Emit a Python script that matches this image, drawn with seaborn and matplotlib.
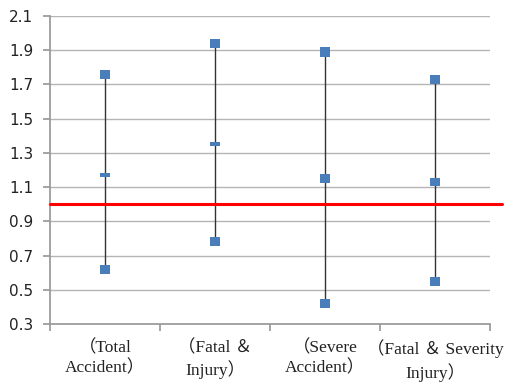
import matplotlib
matplotlib.use("Agg")
import matplotlib.pyplot as plt
import seaborn as sns
import pandas as pd
import numpy as np

categories = ["（Total\nAccident）", "（Fatal ＆\nInjury）", "（Severe\nAccident）", "（Fatal ＆ Severity\nInjury）"]
high = [1.76, 1.94, 1.89, 1.73]
mid = [1.17, 1.35, 1.15, 1.13]
low = [0.62, 0.78, 0.42, 0.55]
yticks = [0.3, 0.5, 0.7, 0.9, 1.1, 1.3, 1.5, 1.7, 1.9, 2.1]
reference_value = 1.0

sns.set_theme(style="white")
plt.rcParams['font.family'] = ['DejaVu Sans']

fig = plt.figure(figsize=(5.17, 3.82), dpi=100)
ax = fig.add_axes([50/517, 1-324/382, 440/517, 308/382])

x = np.arange(len(categories))
df = pd.DataFrame({"x": x, "high": high, "mid": mid, "low": low})

blue = "#4a7ebb"
ax.vlines(df["x"], df["low"], df["high"], color="#333333", lw=1.0, zorder=3)
sq = 44
sns.scatterplot(data=df, x="x", y="high", marker="s", s=sq, color=blue, edgecolor="none", ax=ax, zorder=4, legend=False)
sns.scatterplot(data=df, x="x", y="low", marker="s", s=sq, color=blue, edgecolor="none", ax=ax, zorder=4, legend=False)
mid_h = [0.5, 0.45, 1.0, 0.85]
for xi, yi, h in zip(df["x"], df["mid"], mid_h):
    verts = [(-1, -h), (1, -h), (1, h), (-1, h), (-1, -h)]
    ax.scatter([xi], [yi], marker=verts, s=sq, color=blue, edgecolor="none", zorder=4)

ax.axhline(reference_value, xmin=0, xmax=(502-50)/440, color="#ff0000", lw=2.2, clip_on=False, zorder=5)

ax.set_xlim(-0.5, len(categories) - 0.5)
ax.set_ylim(0.3, 2.1)
ax.set_yticks(yticks)
ax.set_yticklabels([f"{v:.1f}" for v in yticks], fontsize=11, color="#222222")
ax.yaxis.grid(True, color="#b5b5b5", lw=1.0)
ax.set_axisbelow(True)

ax.set_xticks(np.arange(len(categories) + 1) - 0.5, minor=False)
ax.set_xticklabels([])
ax.tick_params(axis="x", which="major", direction="out", length=5, color="#999999", bottom=True)
ax.tick_params(axis="y", length=5, direction="out", color="#999999", left=True, pad=7)
for xi, lab in zip(x, categories):
    ax.text(xi, -0.05, lab, transform=ax.get_xaxis_transform(), ha="center", va="top",
            fontsize=12.5, family=["Liberation Serif", "Noto Sans CJK KR"], color="#222222", linespacing=1.3)

ax.set_xlabel("")
ax.set_ylabel("")
for s in ["top", "right"]:
    ax.spines[s].set_visible(False)
ax.spines["left"].set_color("#999999")
ax.spines["bottom"].set_color("#999999")

fig.savefig("out.png", dpi=100, facecolor="white")
